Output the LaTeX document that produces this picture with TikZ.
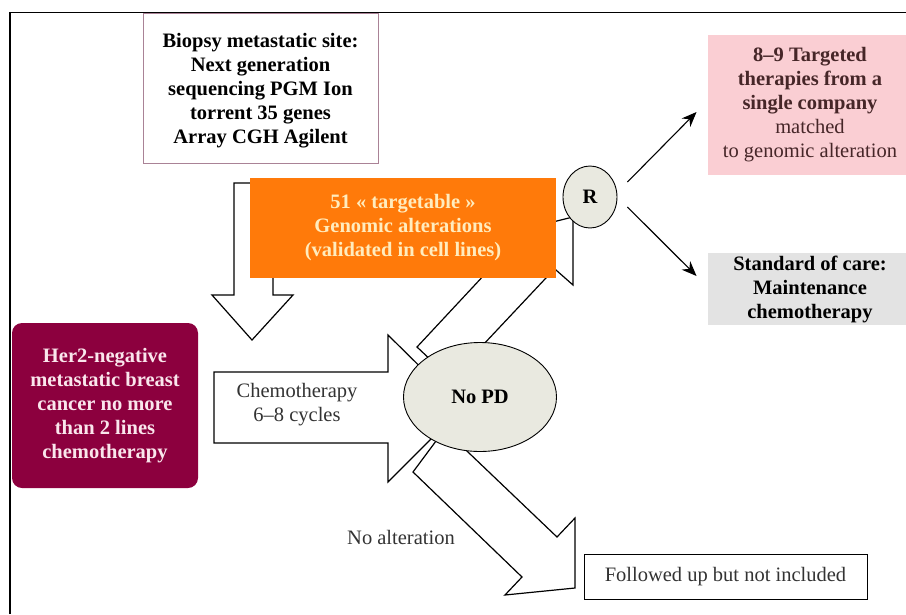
\documentclass[tikz,border=0pt]{standalone}
\usepackage{fontspec}
\setmainfont{Liberation Serif}
\usepackage{tikz}
\usetikzlibrary{arrows.meta,shapes.geometric,backgrounds}
\definecolor{orng}{RGB}{255,122,10}
\definecolor{orngtxt}{RGB}{255,236,190}
\definecolor{maroon}{RGB}{140,0,62}
\definecolor{marotxt}{RGB}{250,230,236}
\definecolor{pinkbox}{RGB}{250,206,211}
\definecolor{pinktxt}{RGB}{70,38,40}
\definecolor{greybox}{RGB}{227,227,227}
\definecolor{ovfill}{RGB}{233,233,224}
\definecolor{biobord}{RGB}{170,130,150}

\begin{document}
\begin{tikzpicture}[x=1pt, y=-1pt,
  font=\fontsize{20.5}{24}\selectfont, line width=0.9pt,
  b/.style={align=center, inner sep=3pt},
  bb/.style={b, font=\fontsize{20.5}{24}\selectfont\bfseries},
  ov/.style={ellipse, draw, fill=ovfill, inner sep=0pt, font=\fontsize{20.5}{24}\selectfont\bfseries},
  blk/.style={draw=black, line width=1.2pt, fill=white, line join=miter},
  pf/.style={-{Stealth[length=15pt,width=12pt]}, line width=1.1pt}
]
\useasboundingbox (0,0) rectangle (906,614);
\draw[line width=1.3pt] (10,614) -- (10,12.5) -- (906,12.5);

\node[bb, draw=biobord, minimum width=235pt, minimum height=150pt, text depth=-6pt] (bio) at (260.5,88)
  {Biopsy metastatic site:\\Next generation\\sequencing PGM Ion\\torrent 35 genes\\Array CGH Agilent};
\node[bb, fill=orng, text=orngtxt, minimum width=306pt, minimum height=100pt] (gen) at (403,228)
  {51 « targetable »\\Genomic alterations\\(validated in cell lines)};
\node[ov, minimum width=54pt, minimum height=62pt] (rnd) at (590,197) {R};
\node[b, fill=pinkbox, text=pinktxt, minimum width=204pt, minimum height=140pt] (tgt) at (810,105)
  {\textbf{8–9 Targeted}\\\textbf{therapies from a}\\\textbf{single company}\\matched\\to genomic alteration};
\node[bb, fill=greybox, minimum width=204pt, minimum height=72pt] (soc) at (810,289)
  {Standard of care:\\Maintenance\\chemotherapy};
\node[bb, fill=maroon, text=marotxt, rounded corners=10pt, minimum width=186pt, minimum height=165pt] (her) at (105,405.5)
  {Her2-negative\\metastatic breast\\cancer no more\\than 2 lines\\chemotherapy};
\node[ov, minimum width=153pt, minimum height=109pt] (nopd) at (480,397) {No PD};
\node[b, draw, line width=0.8pt, text=black!80, minimum width=283pt, minimum height=45pt] (fol) at (725.5,576.5)
  {Followed up but not included};
\node[b, text=black!80] (chm) at (297,405) {Chemotherapy\\6–8 cycles};
\node[b, text=black!80] (noalt) at (401,537) {No alteration};

\begin{scope}[on background layer]
% wide arrows
\draw[blk] (234,183) -- (234,295) -- (212,295) -- (252,340) -- (293,295) -- (273,295) -- (273,183) -- cycle;
\draw[blk] (214,372) -- (388,372) -- (388,335) -- (462,408) -- (388,482) -- (388,443) -- (214,443) -- cycle;
\draw[blk] (417,347) -- (500,258) -- (480,240) -- (573,217) -- (573,285) -- (554.6,268.8) -- (451,379) -- cycle;
\draw[blk] (413,472) -- (522,577) -- (505,595) -- (575,588) -- (575,518) -- (557,537) -- (444.5,429.6) -- cycle;
\end{scope}

\draw[pf] ([shift={(10,-15)}]rnd.east) -- ([shift={(-11,7)}]tgt.west);
\draw[pf] ([shift={(10,10)}]rnd.east) -- ([shift={(-11,-13)}]soc.west);
\end{tikzpicture}
\end{document}
